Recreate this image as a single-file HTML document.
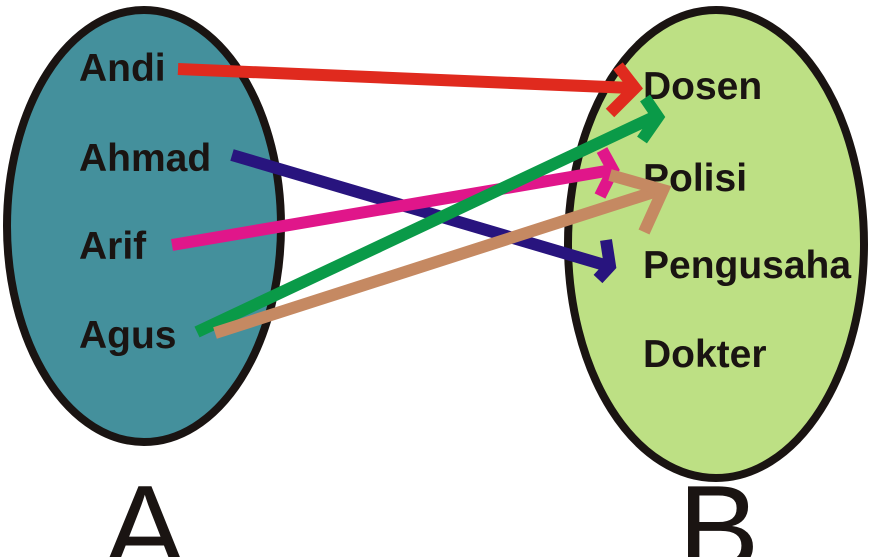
<!DOCTYPE html>
<html><head><style>body{margin:0;background:#fff;overflow:hidden}svg{display:block}</style></head><body>
<svg width="870" height="557" viewBox="0 0 870 557" xmlns="http://www.w3.org/2000/svg">
<ellipse cx="144" cy="226" rx="137" ry="216" fill="#44909c" stroke="#1a1412" stroke-width="8"/>
<ellipse cx="716" cy="244" rx="148" ry="234" fill="#bde084" stroke="#1a1412" stroke-width="8"/>
<g font-family="Liberation Sans, Arial, sans-serif" font-weight="bold" font-size="39" fill="#1a1412">
<text x="79" y="81">Andi</text>
<text x="79" y="171">Ahmad</text>
<text x="79" y="259">Arif</text>
<text x="79" y="348">Agus</text>
<text x="643" y="99">Dosen</text>
<text x="643" y="191">Polisi</text>
<text x="643" y="278">Pengusaha</text>
<text x="643" y="367">Dokter</text>
</g>
<g font-family="Liberation Sans, Arial, sans-serif" font-size="122" fill="#1a1412">
<text x="104" y="570">A</text>
<text x="678" y="570">B</text>
</g>
<g fill="none" stroke-width="12" stroke-linejoin="miter" stroke-linecap="butt">
<path d="M178 69 L632 88" stroke="#e02a1e"/>
<path d="M618 66 L635 88 L610 113" stroke="#e02a1e"/>
<path d="M232 155 L608 266" stroke="#28147e"/>
<path d="M606 240 L610 266 L598 279" stroke="#28147e"/>
<path d="M172 245 L612 170" stroke="#e0168a"/>
<path d="M602 150 L613 170 L600 196" stroke="#e0168a"/>
<path d="M197 332 L656 116" stroke="#0a9a48"/>
<path d="M645 98 L658 117 L642 140" stroke="#0a9a48"/>
<path d="M215 333 L660 190" stroke="#c58962"/>
<path d="M610 175 L663 190 L644 232" stroke="#c58962"/>
</g>
</svg>
</body></html>
